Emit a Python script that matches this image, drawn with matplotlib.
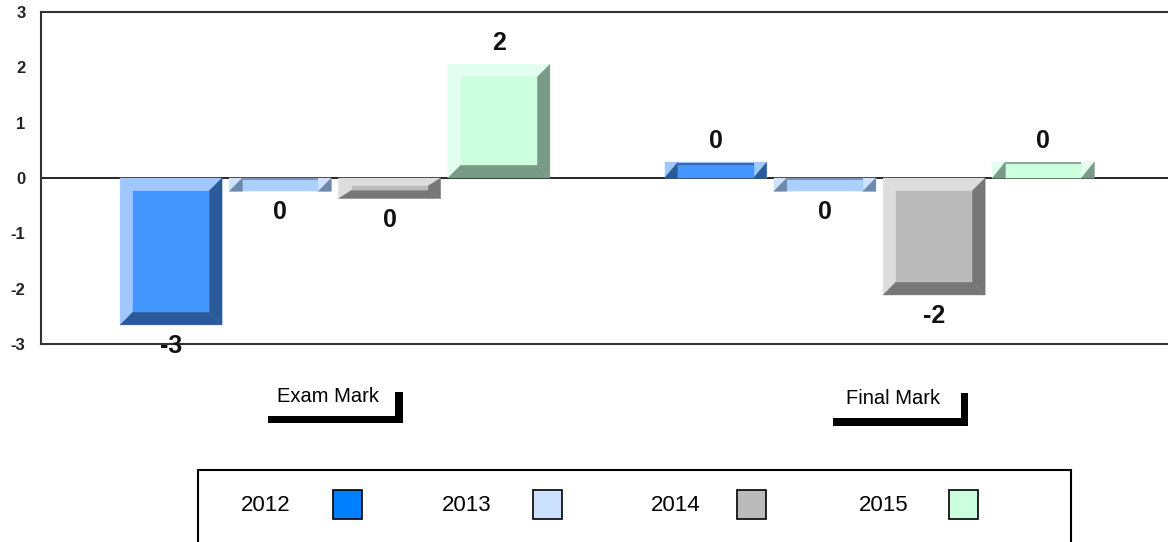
import matplotlib
matplotlib.use("Agg")
import matplotlib.pyplot as plt
from matplotlib.patches import Polygon, Rectangle

plt.rcParams['font.family'] = ['Liberation Sans', 'DejaVu Sans']

# ---- data ----
categories = ["Exam Mark", "Final Mark"]
series = ["2012", "2013", "2014", "2015"]
values_2012 = [-2.65, 0.28]
values_2013 = [-0.24, -0.24]
values_2014 = [-0.37, -2.11]
values_2015 = [2.05, 0.29]
labels_2012 = ["-3", "0"]
labels_2013 = ["0", "0"]
labels_2014 = ["0", "-2"]
labels_2015 = ["2", "0"]
y_ticks = [-3, -2, -1, 0, 1, 2, 3]

values = [values_2012, values_2013, values_2014, values_2015]
labels = [labels_2012, labels_2013, labels_2014, labels_2015]

# ---- styles ----
face_colors = ["#4496ff", "#aad0ff", "#bbbbbb", "#ccffdd"]
light_colors = ["#a0c8ff", "#cfe2ff", "#dddddd", "#e2fff0"]
dark_colors = ["#2a5a9a", "#6c88aa", "#777777", "#7a9a88"]
legend_colors = ["#0080ff", "#cce0ff", "#bbbbbb", "#ccffdd"]

W, H = 1168, 542
fig = plt.figure(figsize=(W / 100, H / 100), dpi=100)

ax_left, ax_top, ax_bottom = 40.7, 11.7, 344.3
ax = fig.add_axes([ax_left / W, 1 - ax_bottom / H, (W - ax_left) / W, (ax_bottom - ax_top) / H])

group_px = 544.5
xmin = -(335 - ax_left) / group_px
xmax = (W - 335) / group_px
ax.set_xlim(xmin, xmax)
ax.set_ylim(-3, 3)

px_x = group_px                       # pixels per x unit
px_y = (ax_bottom - ax_top) / 6.0     # pixels per y unit
bevel_px = 13
step = 0.2007
width = 0.1873

ax.axhline(0, color="black", lw=1.2, zorder=1)


def poly(pts, c, z=2):
    ax.add_patch(Polygon(pts, closed=True, facecolor=c, edgecolor=c, lw=0.3, zorder=z))


for si, (vals, labs) in enumerate(zip(values, labels)):
    for gi, v in enumerate(vals):
        xc = gi + (si - 1.5) * step
        x0, x1 = xc - width / 2, xc + width / 2
        y0, y1 = min(0, v), max(0, v)
        h = y1 - y0
        h_px = h * px_y
        bx = bevel_px / px_x
        lc, fc, dc = light_colors[si], face_colors[si], dark_colors[si]
        if h_px < 18:
            # flat bar: bevel overflows
            poly([(x0, y0), (x1, y0), (x1, y1), (x0, y1)], lc)
            top = y1 - 1.2 / px_y
            poly([(x0 + bx, y0), (x1 - bx, y0), (x1 - bx, top), (x0 + bx, top)], fc, 3)
            ax.plot([x0 + bx, x1 - bx], [top, top], color=dc, lw=1.2, zorder=4,
                    solid_capstyle="butt")
            poly([(x0, y0), (x0 + bx, y1), (x0 + bx, y0)], dc, 4)
            poly([(x1 - bx, y0), (x1, y1), (x1, y0)], dc, 4)
        else:
            by = min(bevel_px, (h_px - 4) / 2) / px_y
            poly([(x0, y1), (x1, y1), (x1 - bx, y1 - by), (x0 + bx, y1 - by)], lc)
            poly([(x0, y0), (x0, y1), (x0 + bx, y1 - by), (x0 + bx, y0 + by)], lc)
            poly([(x0, y0), (x1, y0), (x1 - bx, y0 + by), (x0 + bx, y0 + by)], dc)
            poly([(x1, y0), (x1, y1), (x1 - bx, y1 - by), (x1 - bx, y0 + by)], dc)
            ax.add_patch(Rectangle((x0 + bx, y0 + by), width - 2 * bx, h - 2 * by,
                                   facecolor=fc, edgecolor=fc, lw=0.3, zorder=3))
        off = 21 / px_y
        ty = v + off if v > 0 else v - off
        ax.text(xc, ty, labs[gi], ha="center", va="center", fontsize=18,
                fontweight="bold", color="#111111", zorder=5)

ax.set_yticks(y_ticks)
ax.set_yticklabels([str(t) for t in y_ticks], fontsize=12, fontweight="bold", color="#222222")
ax.set_xticks([])
ax.tick_params(axis="y", length=0, pad=11)
for s in ["left", "top", "bottom"]:
    ax.spines[s].set_linewidth(1.5)
    ax.spines[s].set_color("#333333")
ax.spines["right"].set_visible(False)

# ---- overlay in pixel coordinates ----
ov = fig.add_axes([0, 0, 1, 1], zorder=-1)
ov.set_xlim(0, W)
ov.set_ylim(H, 0)
ov.axis("off")

cat_centers = [328, 893.5]
cat_y = [397, 399]
bracket = [(268, 403, 416, 423, 395, 392), (833, 968, 418, 425.5, 961, 393)]
for ci, cat in enumerate(categories):
    ov.text(cat_centers[ci], cat_y[ci], cat, ha="center", va="center", fontsize=14.5, color="black")
    hx0, hx1, hy0, hy1, vx0, vy0 = bracket[ci]
    ov.add_patch(Rectangle((hx0, hy0), hx1 - hx0, hy1 - hy0, facecolor="black", edgecolor="none"))
    ov.add_patch(Rectangle((vx0, vy0), hx1 - vx0, hy1 - vy0, facecolor="black", edgecolor="none"))

# legend box
ov.add_patch(Rectangle((198, 470), 1071 - 198, 100, facecolor="white", edgecolor="black", lw=1.5))
text_x = [266, 467, 676, 884]
sw_x = [332.5, 532.5, 737, 948.5]
for si, name in enumerate(series):
    ov.text(text_x[si], 505.5, name, ha="center", va="center", fontsize=16, color="black")
    ov.add_patch(Rectangle((sw_x[si], 489.5), 29, 29.5, facecolor=legend_colors[si],
                           edgecolor="black", lw=1.2))

fig.savefig("out.png", dpi=100)
